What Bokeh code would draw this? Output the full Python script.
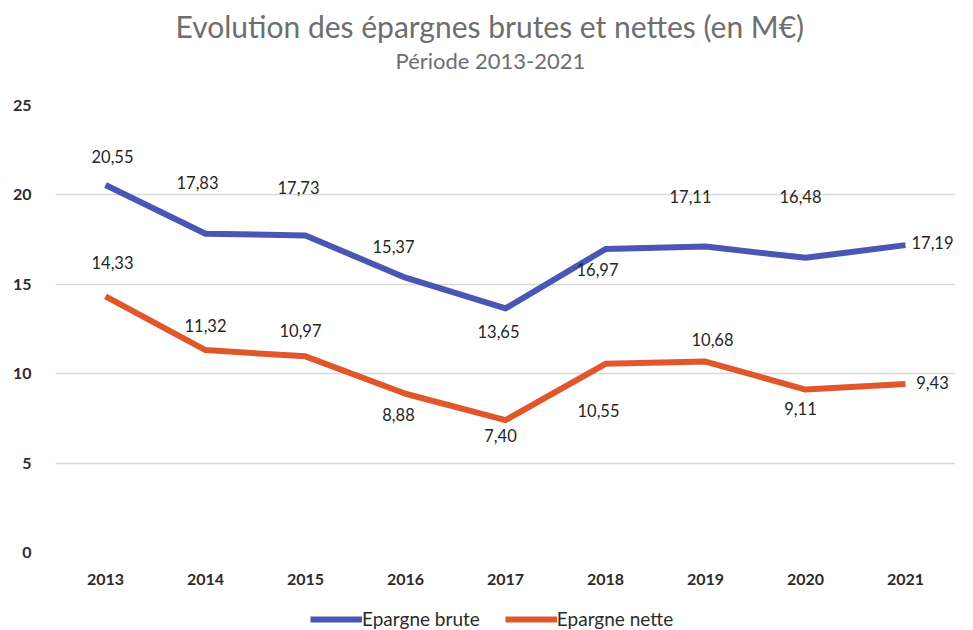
from bokeh.plotting import figure
from bokeh.layouts import column
from bokeh.models import (ColumnDataSource, FactorRange, Range1d, Title, Legend,
                          LegendItem, FixedTicker)
from bokeh.embed import file_html
from bokeh.resources import INLINE
from bokeh.core.properties import value

# ---- data ----
years = ["2013", "2014", "2015", "2016", "2017", "2018", "2019", "2020", "2021"]
brute = [20.55, 17.83, 17.73, 15.37, 13.65, 16.97, 17.11, 16.48, 17.19]
nette = [14.33, 11.32, 10.97, 8.88, 7.40, 10.55, 10.68, 9.11, 9.43]
brute_labels = ["20,55", "17,83", "17,73", "15,37", "13,65", "16,97", "17,11", "16,48", "17,19"]
nette_labels = ["14,33", "11,32", "10,97", "8,88", "7,40", "10,55", "10,68", "9,11", "9,43"]
y_ticks = [0, 5, 10, 15, 20, 25]
series_names = ["Epargne brute", "Epargne nette"]

# ---- label placement (screen pixel offsets) ----
brute_dx = [7, -8, -7, -12, -7, -8, -15, -5, 27]
brute_dy = [-29, -51, -48, -31, 23, 20, -50, -61, -3]
nette_dx = [7, 0, -5, -7, -5, -7, 7, -5, 27]
nette_dy = [-34, -25, -26, 21, 15, 47, -22, 19, -1]

FONT = "Lato"
BLUE = "#4a56b4"
ORANGE = "#e0572c"
W = 963

p = figure(frame_width=900, frame_height=447,
           x_range=FactorRange(*years, range_padding=0),
           y_range=Range1d(0, 25), output_backend="svg", toolbar_location=None,
           min_border_left=55, min_border_right=8, min_border_top=105,
           min_border_bottom=50, outline_line_color=None)

p.xgrid.grid_line_color = None
p.ygrid.grid_line_color = "#d9d9d9"
p.ygrid.grid_line_width = 1.5
p.yaxis.ticker = FixedTicker(ticks=y_ticks)

for ax in (p.xaxis, p.yaxis):
    ax.axis_line_color = None
    ax.major_tick_line_color = None
    ax.minor_tick_line_color = None
    ax.major_label_text_font = FONT
    ax.major_label_text_font_size = "16px"
    ax.major_label_text_color = "#2b2b2b"
    ax.major_label_text_font_style = "bold"
p.yaxis.major_label_standoff = 18
p.xaxis.major_label_standoff = 15

src_b = ColumnDataSource(dict(x=years, y=brute, t=brute_labels, dx=brute_dx, dy=brute_dy))
src_n = ColumnDataSource(dict(x=years, y=nette, t=nette_labels, dx=nette_dx, dy=nette_dy))

rb = p.line("x", "y", source=src_b, line_color=BLUE, line_width=6, line_join="round")
rn = p.line("x", "y", source=src_n, line_color=ORANGE, line_width=6, line_join="round")

for src in (src_b, src_n):
    p.text("x", "y", text="t", source=src, x_offset="dx", y_offset="dy",
           text_align="center", text_baseline="middle",
           text_font=value(FONT), text_font_size="16.5px", text_color="#262626")

# titles: spacer nearest the frame, then subtitle, then main title
p.title.visible = False
p.add_layout(Title(text=" ", text_font_size="1px", standoff=28), "above")
p.add_layout(Title(text="Période 2013-2021", align="left", offset=340,
                   standoff=2, text_font=FONT, text_font_size="22px",
                   text_color="#6e6e6e", text_font_style="normal"), "above")
p.add_layout(Title(text="Evolution des épargnes brutes et nettes (en M€)",
                   align="left", offset=120, standoff=0, text_font=FONT,
                   text_font_size="30px", text_color="#6e6e6e",
                   text_font_style="normal"), "above")

# legend in a thin strip below the chart (series lines fall outside this strip's
# visible range, only their legend swatches show)
leg = figure(width=W, height=28, output_backend="svg", toolbar_location=None,
             x_range=Range1d(0, 1), y_range=Range1d(-1, 0),
             min_border=0, outline_line_color=None)
leg.axis.visible = False
leg.grid.visible = False
lb = leg.line(x=list(range(len(years))), y=brute, line_color=BLUE, line_width=6)
ln = leg.line(x=list(range(len(years))), y=nette, line_color=ORANGE, line_width=6)
legend = Legend(items=[LegendItem(label=series_names[0], renderers=[lb]),
                       LegendItem(label=series_names[1], renderers=[ln])],
                orientation="horizontal", location=(255, 0),
                glyph_width=52, glyph_height=20, label_standoff=0, spacing=25,
                label_text_font=FONT, label_text_font_size="19px",
                label_text_color="#2b2b2b", margin=0, padding=0,
                border_line_color=None, background_fill_alpha=0)
leg.add_layout(legend)

layout = column(p, leg, spacing=0)
open("out.html", "w").write(file_html(layout, INLINE))
